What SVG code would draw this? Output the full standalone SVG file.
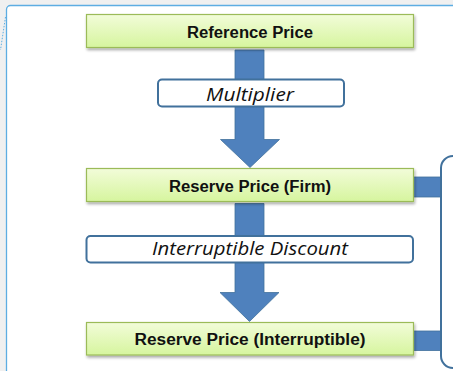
<svg xmlns="http://www.w3.org/2000/svg" width="453" height="371" viewBox="0 0 453 371">
<defs>
<linearGradient id="gGreen" x1="0" y1="0" x2="0" y2="1">
<stop offset="0" stop-color="#f2fcd9"/>
<stop offset="1" stop-color="#d6f59e"/>
</linearGradient>
<filter id="sh" x="-5%" y="-20%" width="112%" height="160%">
<feGaussianBlur in="SourceAlpha" stdDeviation="1.5"/>
<feOffset dx="1" dy="2" result="b"/>
<feComponentTransfer><feFuncA type="linear" slope="0.35"/></feComponentTransfer>
<feMerge><feMergeNode/><feMergeNode in="SourceGraphic"/></feMerge>
</filter>
</defs>
<style>
.box{fill:url(#gGreen);stroke:#9bbb59;stroke-width:1.2}
.lbl{fill:#ffffff;stroke:#41719c;stroke-width:2}
.arrow{fill:#4f81bd;stroke:#41719c;stroke-width:0.8}
.bt{font-family:"Liberation Sans",Arial,sans-serif;font-weight:bold;font-size:16px;fill:#111;text-anchor:middle}
.it{font-family:"Open Sans","Liberation Sans",sans-serif;font-style:italic;font-size:18px;fill:#111;text-anchor:middle}
</style>
<rect x="0" y="0" width="453" height="371" fill="#f0f0f0"/>
<rect x="6.5" y="5.5" width="470" height="400" rx="4" fill="#ffffff" stroke="#5dade2" stroke-width="1.3"/>
<line x1="5.5" y1="17" x2="0.5" y2="50" stroke="#5dade2" stroke-width="1" stroke-dasharray="1.5,1.5"/>
<g id="connectors">
<path class="arrow" d="M235,50 H264 V139.5 H279.5 L250,167.5 L220.5,139.5 H235 Z"/>
<path class="arrow" d="M235,203.5 H264 V292.5 H279 L249.5,321.5 L220,292.5 H235 Z"/>
<rect class="arrow" x="413" y="177" width="28" height="20"/>
<rect class="arrow" x="413" y="331" width="28" height="19.5"/>
<rect x="441" y="156" width="40" height="212" rx="12" fill="none" stroke="#41719c" stroke-width="2"/>
</g>
<g id="reference-price">
<rect class="box" x="86.5" y="14.5" width="327" height="33" filter="url(#sh)"/>
<text class="bt" x="250" y="37.5" textLength="126" lengthAdjust="spacingAndGlyphs">Reference Price</text>
</g>
<g id="multiplier">
<rect class="lbl" x="158" y="79.5" width="186" height="27" rx="4"/>
<text class="it" x="250" y="100.5" textLength="88" lengthAdjust="spacingAndGlyphs">Multiplier</text>
</g>
<g id="reserve-price-firm">
<rect class="box" x="86.5" y="168.5" width="327" height="33" filter="url(#sh)"/>
<text class="bt" x="250" y="191.5" textLength="162" lengthAdjust="spacingAndGlyphs">Reserve Price (Firm)</text>
</g>
<g id="interruptible-discount">
<rect class="lbl" x="86.5" y="236" width="326.5" height="26.5" rx="4"/>
<text class="it" x="250" y="254.5" textLength="196" lengthAdjust="spacingAndGlyphs">Interruptible Discount</text>
</g>
<g id="reserve-price-interruptible">
<rect class="box" x="86.5" y="322.5" width="327" height="32.5" filter="url(#sh)"/>
<text class="bt" x="250" y="345" textLength="231" lengthAdjust="spacingAndGlyphs">Reserve Price (Interruptible)</text>
</g>
</svg>
